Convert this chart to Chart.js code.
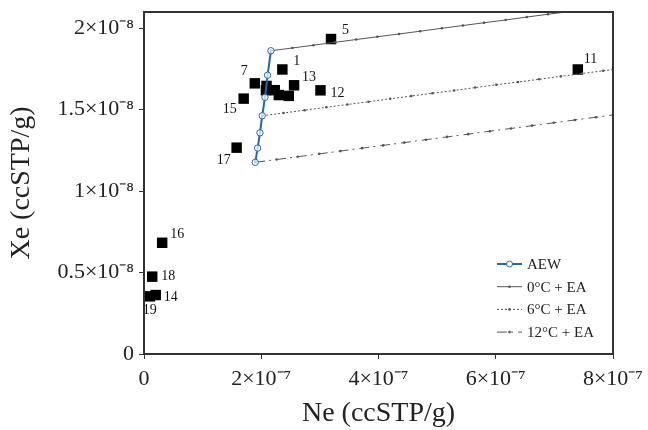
<!DOCTYPE html>
<html>
<head>
<meta charset="utf-8">
<script src="https://cdn.jsdelivr.net/npm/chart.js@4/dist/chart.umd.min.js"></script>
<style>
  body { margin: 0; background: #fff; }
  #wrap { width: 648px; height: 430px; }
</style>
</head>
<body>
<div id="wrap"><canvas id="chart" width="648" height="430"></canvas></div>
<script>
// Ne in units of 1e-7 ccSTP/g, Xe in units of 1e-8 ccSTP/g
const sampleIds = ['1', '5', '7', '13', '12', '15', '17', '11', '16', '18', '14', '19', '', '', '', '', ''];
const sampleNe = [2.36, 3.19, 1.89, 2.56, 3.01, 1.70, 1.58, 7.40, 0.31, 0.14, 0.20, 0.10, 2.09, 2.08, 2.23, 2.30, 2.47];
const sampleXe = [1.747, 1.934, 1.662, 1.650, 1.619, 1.568, 1.267, 1.747, 0.683, 0.475, 0.362, 0.354, 1.646, 1.620, 1.620, 1.590, 1.585];

// air equilibrated water, 0 to 12 °C
const aewNe = [2.165, 2.108, 2.063, 2.017, 1.978, 1.938, 1.898];
const aewXe = [1.862, 1.712, 1.576, 1.463, 1.358, 1.264, 1.177];

// excess air lines (small dots)
const ea0Ne = [2.165, 2.53, 2.89, 3.26, 3.62, 3.98, 4.35, 4.71, 5.08, 5.44, 5.80, 6.17, 6.53, 6.89, 7.26, 8.0];
const ea0Xe = [1.862, 1.879, 1.896, 1.914, 1.931, 1.948, 1.965, 1.982, 2.000, 2.017, 2.034, 2.051, 2.069, 2.086, 2.103, 2.138];
const ea6Ne = [2.017, 2.38, 2.74, 3.11, 3.47, 3.83, 4.20, 4.56, 4.92, 5.29, 5.65, 6.01, 6.38, 6.74, 7.11, 7.47, 7.83, 8.0];
const ea6Xe = [1.463, 1.480, 1.497, 1.515, 1.532, 1.549, 1.567, 1.584, 1.601, 1.618, 1.636, 1.653, 1.670, 1.687, 1.705, 1.722, 1.739, 1.747];
const ea12Ne = [1.898, 2.26, 2.62, 2.99, 3.35, 3.72, 4.08, 4.44, 4.81, 5.17, 5.53, 5.90, 6.26, 6.62, 6.99, 7.35, 7.71, 8.0];
const ea12Xe = [1.177, 1.194, 1.211, 1.229, 1.246, 1.264, 1.281, 1.298, 1.316, 1.333, 1.350, 1.368, 1.385, 1.402, 1.420, 1.437, 1.454, 1.468];

const xTicks = [0, 2, 4, 6, 8];
const xTickLabels = ['0', '2×10⁻⁷', '4×10⁻⁷', '6×10⁻⁷', '8×10⁻⁷'];
const yTicks = [0, 0.5, 1, 1.5, 2];
const yTickLabels = ['0', '0.5×10⁻⁸', '1×10⁻⁸', '1.5×10⁻⁸', '2×10⁻⁸'];

const seriesNames = ['AEW', '0°C + EA', '6°C + EA', '12°C + EA'];

const SERIF = "'Liberation Serif', 'Times New Roman', serif";
const BLUE = '#2368ab';
const INK = '#333';

function toPoints(xs, ys) {
    return xs.map((x, i) => ({ x: x, y: ys[i] }));
}

// dots on every point but the last (it only carries the line to the edge)
function dotRadius(ctx) {
    return ctx.dataIndex === ctx.dataset.data.length - 1 ? 0 : 1.3;
}

// label offsets beside each numbered sample: [dx, dy, align]
const labelPlace = {
    '1': [11, -8, 'left'], '5': [11, -9, 'left'], '13': [8, -8, 'left'],
    '12': [10, 3, 'left'], '7': [-7, -12, 'right'], '15': [-7, 11, 'right'],
    '17': [-6, 13, 'right'], '11': [6, -10, 'left'], '16': [8, -8, 'left'],
    '18': [9, 0, 'left'], '14': [8, 2, 'left'], '19': [0, 14, 'center']
};

const sampleLabels = {
    id: 'sampleLabels',
    afterDatasetsDraw(chart) {
        const ctx = chart.ctx;
        const xs = chart.scales.x, ys = chart.scales.y;
        ctx.save();
        ctx.font = '14px ' + SERIF;
        ctx.fillStyle = '#111';
        ctx.textBaseline = 'middle';
        sampleIds.forEach((id, i) => {
            if (!id) return;
            const p = labelPlace[id] || [8, -8, 'left'];
            ctx.textAlign = p[2];
            ctx.fillText(id, xs.getPixelForValue(sampleNe[i]) + p[0], ys.getPixelForValue(sampleXe[i]) + p[1]);
        });
        ctx.restore();
    }
};

// frame round the plot and the legend inside its lower right corner
const frameAndLegend = {
    id: 'frameAndLegend',
    afterDraw(chart) {
        const ctx = chart.ctx;
        const a = chart.chartArea;
        ctx.save();
        ctx.strokeStyle = INK;
        ctx.lineWidth = 2;
        ctx.strokeRect(a.left, a.top, a.right - a.left, a.bottom - a.top);

        const x0 = a.right - 116, x1 = a.right - 91;
        let y = a.bottom - 90;
        ctx.font = '15px ' + SERIF;
        ctx.textBaseline = 'middle';
        ctx.textAlign = 'left';
        seriesNames.forEach((name, i) => {
            const ds = chart.data.datasets[i];
            ctx.save();
            ctx.strokeStyle = ds.borderColor;
            ctx.lineWidth = ds.borderWidth;
            ctx.setLineDash(ds.borderDash || []);
            ctx.beginPath();
            ctx.moveTo(x0, y);
            ctx.lineTo(x1, y);
            ctx.stroke();
            ctx.setLineDash([]);
            const mx = (x0 + x1) / 2;
            if (i === 0) {
                ctx.fillStyle = '#fff';
                ctx.lineWidth = 1;
                ctx.beginPath();
                ctx.arc(mx, y, 3, 0, Math.PI * 2);
                ctx.fill();
                ctx.stroke();
            } else {
                ctx.fillStyle = ds.borderColor;
                ctx.beginPath();
                ctx.arc(mx, y, 1.3, 0, Math.PI * 2);
                ctx.fill();
            }
            ctx.restore();
            ctx.fillStyle = '#222';
            ctx.fillText(name, x1 + 5, y + 1);
            y += 22.7;
        });
        ctx.restore();
    }
};

const eaStyle = {
    type: 'line',
    borderColor: '#555',
    backgroundColor: '#555',
    borderWidth: 1,
    pointRadius: dotRadius,
    pointBorderWidth: 0,
    pointHoverRadius: 0,
    showLine: true,
    fill: false
};

const chart = new Chart(document.getElementById('chart').getContext('2d'), {
    type: 'scatter',
    data: {
        datasets: [
            {
                type: 'line',
                label: seriesNames[0],
                data: toPoints(aewNe, aewXe),
                borderColor: BLUE,
                backgroundColor: 'rgba(255,255,255,0.7)',
                borderWidth: 2,
                pointRadius: 3.2,
                pointBorderWidth: 1,
                pointBorderColor: BLUE,
                showLine: true,
                fill: false
            },
            Object.assign({}, eaStyle, { label: seriesNames[1], data: toPoints(ea0Ne, ea0Xe) }),
            Object.assign({}, eaStyle, { label: seriesNames[2], data: toPoints(ea6Ne, ea6Xe), borderDash: [2, 2] }),
            Object.assign({}, eaStyle, { label: seriesNames[3], data: toPoints(ea12Ne, ea12Xe), borderDash: [10, 4, 2, 5] }),
            {
                label: 'samples',
                data: toPoints(sampleNe, sampleXe),
                pointStyle: 'rect',
                pointRadius: 7.4,
                pointBorderWidth: 0,
                backgroundColor: '#000',
                borderColor: '#000'
            }
        ]
    },
    options: {
        responsive: false,
        animation: false,
        layout: { padding: { top: 12, right: 35, left: 0, bottom: 0 } },
        plugins: {
            legend: { display: false },
            tooltip: { enabled: false }
        },
        scales: {
            x: {
                type: 'linear',
                min: 0,
                max: 8,
                afterFit: s => { s.height = 76; s.paddingLeft = 0; s.paddingRight = 0; },
                afterBuildTicks: s => { s.ticks = xTicks.map(v => ({ value: v })); },
                ticks: {
                    autoSkip: false,
                    maxRotation: 0,
                    padding: 7,
                    color: '#222',
                    font: { family: SERIF, size: 22 },
                    callback: (v, i) => xTickLabels[i]
                },
                grid: { drawOnChartArea: false, drawTicks: true, tickLength: 5, color: INK },
                border: { display: true, color: INK, width: 2 },
                title: {
                    display: true,
                    text: 'Ne (ccSTP/g)',
                    color: '#222',
                    font: { family: SERIF, size: 28 },
                    padding: { top: 0, bottom: 0 }
                }
            },
            y: {
                type: 'linear',
                min: 0,
                max: 2.1,
                afterFit: s => { s.width = 144; s.paddingTop = 0; s.paddingBottom = 0; },
                afterBuildTicks: s => { s.ticks = yTicks.map(v => ({ value: v })); },
                ticks: {
                    autoSkip: false,
                    padding: 5,
                    color: '#222',
                    font: { family: SERIF, size: 22 },
                    callback: (v, i) => yTickLabels[i]
                },
                grid: { drawOnChartArea: false, drawTicks: true, tickLength: 5, color: INK },
                border: { display: true, color: INK, width: 2 },
                title: {
                    display: true,
                    text: 'Xe (ccSTP/g)',
                    color: '#222',
                    font: { family: SERIF, size: 28 },
                    padding: { top: 5, bottom: 0 }
                }
            }
        }
    },
    plugins: [sampleLabels, frameAndLegend]
});
</script>
</body>
</html>
